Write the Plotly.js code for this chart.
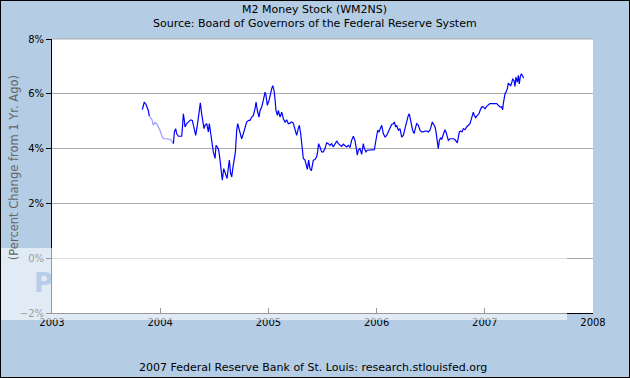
<!DOCTYPE html>
<html>
<head>
<meta charset="utf-8">
<script src="https://cdn.plot.ly/plotly-3.0.1.min.js"></script>
<style>
  html, body { margin: 0; padding: 0; background: #b4cde5; }
  #chart { width: 630px; height: 378px; }
</style>
</head>
<body>
<div id="chart"></div>
<script>
// Decimal-year positions and % change values
const earlyYears = [2003.835, 2003.853, 2003.869, 2003.890, 2003.900];
const earlyValues = [5.42, 5.70, 5.61, 5.39, 5.18];

const revisedYears = [2003.900, 2003.912, 2003.924, 2003.937, 2003.952, 2003.967, 2003.983, 2003.998,
  2004.014, 2004.029, 2004.060, 2004.091, 2004.106, 2004.122];
const revisedValues = [5.18, 5.09, 5.05, 4.85, 4.95, 4.91, 4.79, 4.67,
  4.48, 4.36, 4.36, 4.34, 4.27, 4.18];

const mainYears = [2004.122, 2004.131, 2004.143, 2004.152, 2004.168, 2004.199, 2004.208, 2004.214, 2004.223,
  2004.229, 2004.245, 2004.260, 2004.282, 2004.297, 2004.313, 2004.328, 2004.343, 2004.359, 2004.371,
  2004.383, 2004.393, 2004.405, 2004.414, 2004.430, 2004.445, 2004.454, 2004.467, 2004.476, 2004.491,
  2004.507, 2004.516, 2004.528, 2004.541, 2004.553, 2004.568, 2004.574, 2004.587, 2004.599, 2004.608,
  2004.618, 2004.627, 2004.639, 2004.651, 2004.661, 2004.673, 2004.682, 2004.695, 2004.707, 2004.716,
  2004.728, 2004.738, 2004.753, 2004.769, 2004.784, 2004.799, 2004.818, 2004.830, 2004.846, 2004.861,
  2004.876, 2004.886, 2004.898, 2004.913, 2004.923, 2004.938, 2004.953, 2004.969, 2004.978, 2004.990,
  2005.006, 2005.015, 2005.030, 2005.040, 2005.052, 2005.061, 2005.070, 2005.083, 2005.092, 2005.108,
  2005.123, 2005.138, 2005.154, 2005.169, 2005.184, 2005.200, 2005.215, 2005.230, 2005.246, 2005.261,
  2005.276, 2005.286, 2005.298, 2005.307, 2005.317, 2005.323, 2005.338, 2005.353, 2005.360, 2005.372,
  2005.384, 2005.397, 2005.406, 2005.415, 2005.431, 2005.446, 2005.455, 2005.464, 2005.477, 2005.492,
  2005.508, 2005.523, 2005.538, 2005.554, 2005.569, 2005.585, 2005.600, 2005.615, 2005.631, 2005.646,
  2005.662, 2005.677, 2005.692, 2005.708, 2005.723, 2005.739, 2005.754, 2005.769, 2005.785, 2005.800,
  2005.809, 2005.822, 2005.831, 2005.846, 2005.862, 2005.877, 2005.887, 2005.902, 2005.914, 2005.939,
  2005.970, 2005.979, 2005.991, 2006.000, 2006.010, 2006.022, 2006.031, 2006.047, 2006.062, 2006.078,
  2006.093, 2006.108, 2006.124, 2006.139, 2006.155, 2006.164, 2006.176, 2006.185, 2006.201, 2006.216,
  2006.232, 2006.247, 2006.262, 2006.278, 2006.293, 2006.302, 2006.315, 2006.324, 2006.333, 2006.346,
  2006.355, 2006.370, 2006.386, 2006.401, 2006.416, 2006.432, 2006.447, 2006.463, 2006.478, 2006.493,
  2006.503, 2006.515, 2006.524, 2006.540, 2006.549, 2006.561, 2006.570, 2006.580, 2006.592, 2006.601,
  2006.610, 2006.623, 2006.632, 2006.641, 2006.654, 2006.663, 2006.678, 2006.694, 2006.709, 2006.724,
  2006.734, 2006.746, 2006.755, 2006.765, 2006.777, 2006.789, 2006.802, 2006.817, 2006.832, 2006.848,
  2006.863, 2006.872, 2006.879, 2006.888, 2006.894, 2006.903, 2006.916, 2006.931, 2006.946, 2006.956,
  2006.971, 2006.986, 2007.002, 2007.017, 2007.033, 2007.048, 2007.079, 2007.110, 2007.125, 2007.140,
  2007.156, 2007.165, 2007.171, 2007.177, 2007.187, 2007.196, 2007.208, 2007.217, 2007.227, 2007.239,
  2007.248, 2007.258, 2007.270, 2007.279, 2007.288, 2007.301, 2007.310, 2007.319, 2007.328, 2007.338,
  2007.347, 2007.359];
const mainValues = [4.18, 4.61, 4.73, 4.55, 4.45, 4.45, 4.91, 5.27, 5.03,
  4.79, 4.91, 4.97, 5.05, 5.03, 4.79, 4.48, 4.85, 5.27, 5.67,
  5.27, 5.03, 4.73, 4.85, 4.91, 4.61, 4.91, 4.55, 4.24, 3.88,
  3.64, 4.12, 4.06, 3.94, 3.58, 3.15, 2.85, 3.27, 3.15, 3.03,
  2.91, 3.21, 3.58, 3.09, 2.97, 3.33, 3.58, 3.88, 4.67, 4.91,
  4.73, 4.55, 4.36, 4.55, 4.79, 4.97, 5.03, 5.03, 5.15, 5.21,
  5.45, 5.70, 5.39, 5.15, 5.39, 5.52, 5.76, 6.06, 5.94, 5.58,
  5.76, 5.94, 6.18, 6.30, 6.12, 5.82, 5.39, 5.21, 5.39, 5.15,
  5.33, 5.09, 4.97, 5.05, 4.91, 4.93, 4.97, 4.93, 4.67, 4.48,
  4.73, 4.85, 4.55, 4.24, 3.94, 3.64, 3.58, 3.39, 3.24, 3.58,
  3.27, 3.19, 3.39, 3.58, 3.60, 3.70, 3.88, 4.18, 4.06, 3.88,
  3.88, 4.00, 4.21, 4.18, 4.12, 4.18, 4.06, 4.18, 4.28, 4.18,
  4.12, 4.08, 4.16, 4.12, 4.06, 4.12, 4.04, 4.30, 4.45, 4.30,
  4.00, 3.76, 3.94, 4.00, 3.79, 4.18, 4.00, 3.88, 3.94, 3.94,
  3.94, 3.96, 4.24, 4.48, 4.67, 4.61, 4.73, 4.85, 4.55, 4.42,
  4.48, 4.61, 4.79, 4.88, 4.91, 4.97, 4.79, 4.85, 4.67, 4.73,
  4.42, 4.48, 4.73, 5.03, 5.21, 5.27, 5.03, 4.79, 4.67, 4.55,
  4.73, 4.91, 4.85, 4.67, 4.61, 4.61, 4.64, 4.64, 4.61, 4.67,
  4.79, 4.97, 4.91, 4.79, 4.61, 4.30, 4.00, 4.30, 4.40, 4.33,
  4.42, 4.61, 4.69, 4.61, 4.45, 4.30, 4.36, 4.36, 4.36, 4.33,
  4.28, 4.21, 4.40, 4.61, 4.64, 4.61, 4.73, 4.69, 4.79, 4.84,
  4.91, 5.03, 5.15, 5.27, 5.33, 5.21, 5.13, 5.21, 5.27, 5.39,
  5.52, 5.52, 5.45, 5.54, 5.61, 5.64, 5.64, 5.64, 5.58, 5.52,
  5.52, 5.42, 5.64, 5.85, 6.00, 6.06, 6.18, 6.39, 6.34, 6.30,
  6.39, 6.55, 6.48, 6.27, 6.61, 6.42, 6.67, 6.36, 6.63, 6.73,
  6.67, 6.58];

const xTickVals = [2003, 2004, 2005, 2006, 2007, 2008];
const xTickText = ['2003', '2004', '2005', '2006', '2007', '2008'];
const yTickVals = [-2, 0, 2, 4, 6, 8];
const yTickText = ['\u22122%', '0%', '2%', '4%', '6%', '8%'];

const FONT = 'DejaVu Sans, Verdana, sans-serif';

const traces = [
  {x: earlyYears, y: earlyValues, type: 'scatter', mode: 'lines',
   line: {color: '#0000ff', width: 1.2}, hoverinfo: 'skip'},
  {x: revisedYears, y: revisedValues, type: 'scatter', mode: 'lines',
   line: {color: '#9a9aff', width: 1.2}, hoverinfo: 'skip'},
  {x: mainYears, y: mainValues, type: 'scatter', mode: 'lines',
   line: {color: '#0000ff', width: 1.2}, hoverinfo: 'skip'}
];

const layout = {
  width: 630, height: 378,
  margin: {l: 52, r: 37, t: 39, b: 65},
  paper_bgcolor: '#b4cde5',
  plot_bgcolor: '#ffffff',
  showlegend: false,
  font: {family: FONT, size: 10, color: '#000000'},
  xaxis: {
    type: 'linear', range: [2003, 2008],
    tickvals: xTickVals, ticktext: xTickText,
    ticks: 'inside', ticklen: 5, tickcolor: '#000000', tickwidth: 1,
    showline: true, linecolor: '#000000', linewidth: 1,
    showgrid: false, zeroline: false,
    tickfont: {family: FONT, size: 10, color: '#000000'}
  },
  yaxis: {
    range: [-2, 8],
    tickvals: yTickVals, ticktext: yTickText,
    ticks: 'outside', ticklen: 5, tickcolor: '#000000', tickwidth: 1,
    showline: true, linecolor: '#000000', linewidth: 1,
    showgrid: true, gridcolor: '#aaaaaa', gridwidth: 1,
    zeroline: false,
    tickfont: {family: FONT, size: 10, color: '#000000'}
  },
  annotations: [
    {text: 'M2 Money Stock (WM2NS)', xref: 'paper', yref: 'paper',
     x: 0.486, y: 1.106, xanchor: 'center', yanchor: 'middle', showarrow: false,
     font: {family: FONT, size: 11, color: '#000000'}},
    {text: 'Source: Board of Governors of the Federal Reserve System', xref: 'paper', yref: 'paper',
     x: 0.486, y: 1.055, xanchor: 'center', yanchor: 'middle', showarrow: false,
     font: {family: FONT, size: 11, color: '#000000'}},
    {text: '(Percent Change from 1 Yr. Ago)', xref: 'paper', yref: 'paper',
     x: -0.070, y: 0.529, xanchor: 'center', yanchor: 'middle', textangle: -90, showarrow: false,
     font: {family: FONT, size: 11.5, color: '#666666'}},
    {text: '2007 Federal Reserve Bank of St. Louis: research.stlouisfed.org', xref: 'paper', yref: 'paper',
     x: 0.482, y: -0.2007, xanchor: 'center', yanchor: 'middle', showarrow: false,
     font: {family: FONT, size: 11, color: '#000000'}},
    {text: '<b>P</b>', xref: 'paper', yref: 'paper',
     x: -0.0166, y: 0.109, xanchor: 'center', yanchor: 'middle', showarrow: false,
     font: {family: FONT, size: 26, color: 'rgba(130,170,220,0.45)'}}
  ],
  shapes: [
    {type: 'line', xref: 'paper', yref: 'paper', x0: 0, x1: 1, y0: 1, y1: 1,
     line: {color: '#aaaaaa', width: 1}},
    {type: 'rect', xref: 'paper', yref: 'paper', x0: -0.0961, x1: 0.952, y0: -0.0255, y1: 0.237,
     fillcolor: 'rgba(255,255,255,0.6)', line: {width: 0}, layer: 'above'},
    {type: 'rect', xref: 'paper', yref: 'paper', x0: -0.0961, x1: 1.0684, y0: -0.2372, y1: 1.1423,
     fillcolor: 'rgba(0,0,0,0)', line: {color: '#000000', width: 2}, layer: 'above'}
  ]
};

Plotly.newPlot('chart', traces, layout, {displayModeBar: false, staticPlot: true});
</script>
</body>
</html>
